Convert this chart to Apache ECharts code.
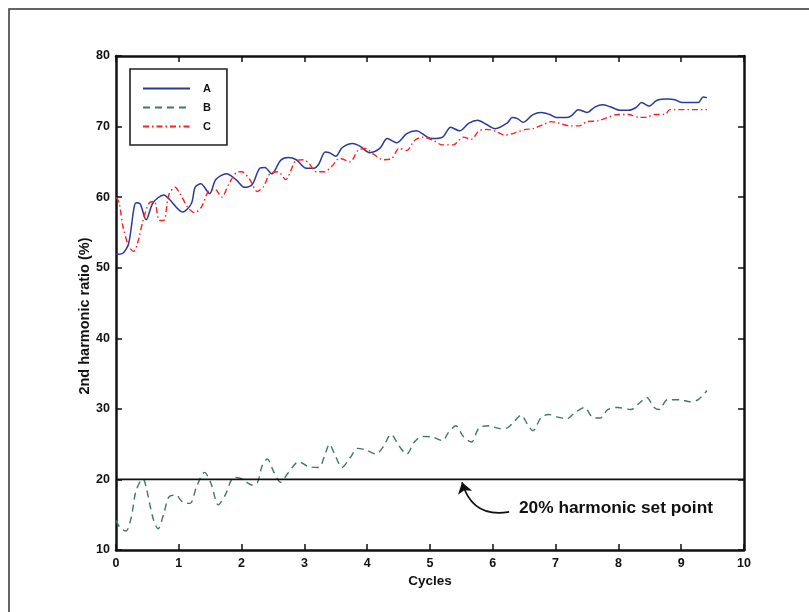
<!DOCTYPE html>
<html>
<head>
<meta charset="utf-8">
<script src="https://cdn.jsdelivr.net/npm/echarts@6/dist/echarts.min.js"></script>
<style>
  html, body { margin: 0; padding: 0; background: #fff; }
  #chart { width: 809px; height: 612px; }
</style>
</head>
<body>
<div id="chart"></div>
<script>
// Second-harmonic ratio over the first cycles for three cases
const seriesA = [
  [0,51.9],[0.1,52],[0.2,53.4],[0.32,59.2],[0.38,59.1],[0.48,56.8],[0.59,59.2],[0.76,60.3],[0.85,59.7],
  [1.06,57.9],[1.2,59.1],[1.26,61.4],[1.35,61.9],[1.49,60.5],[1.59,62.5],[1.76,63.3],[1.92,62.4],
  [2.04,61.4],[2.17,61.8],[2.29,64.1],[2.37,64.2],[2.48,63.3],[2.62,65.2],[2.74,65.6],[2.87,65.3],
  [3.03,64.1],[3.15,64.1],[3.23,64.7],[3.33,66.4],[3.4,66.3],[3.5,65.8],[3.6,67],[3.77,67.6],[3.89,67.2],
  [4.04,66.3],[4.2,66.9],[4.32,68.3],[4.47,67.7],[4.63,69],[4.78,69.4],[4.96,68.5],
  [5.04,68.3],[5.2,68.5],[5.33,69.9],[5.47,69.4],[5.62,70.5],[5.76,70.9],[5.9,70.3],
  [6.04,69.7],[6.23,70.5],[6.31,71.3],[6.4,71.1],[6.48,70.6],[6.64,71.7],[6.77,72],[6.91,71.7],
  [7.01,71.3],[7.18,71.3],[7.26,71.6],[7.36,72.4],[7.5,72],[7.63,72.8],[7.75,73.1],[7.87,72.8],
  [8.04,72.3],[8.16,72.3],[8.28,72.7],[8.37,73.4],[8.49,72.9],[8.61,73.7],[8.78,73.9],[8.9,73.8],
  [9.02,73.4],[9.27,73.4],[9.35,74.2],[9.41,74.1]
];
const seriesB = [
  [0,14.2],[0.07,13.1],[0.16,12.7],[0.24,14.5],[0.32,18.4],[0.43,20.1],[0.48,18.9],[0.59,14.5],[0.67,13],
  [0.76,15.1],[0.84,17.5],[0.95,17.8],[1.06,16.8],[1.18,16.6],[1.28,18.9],[1.41,21],[1.51,19.5],
  [1.63,16.4],[1.74,17.8],[1.88,20.3],[2,20.1],[2.17,19.2],[2.25,19.5],[2.33,22],[2.41,22.9],
  [2.51,21.1],[2.62,19.6],[2.74,20.9],[2.91,22.5],[3.07,21.8],[3.23,21.7],[3.32,23.3],[3.4,25],
  [3.48,23.6],[3.6,21.7],[3.73,23.1],[3.85,24.4],[3.97,24.2],[4.14,23.6],[4.26,24.7],[4.38,26.4],
  [4.51,24.7],[4.63,23.6],[4.75,25.3],[4.88,26.1],[5.04,26],[5.2,25.5],[5.29,26.6],[5.41,27.6],
  [5.53,26.1],[5.66,25.3],[5.78,27.3],[5.94,27.6],[6.11,27.2],[6.23,27.3],[6.35,28.3],[6.45,29.1],
  [6.56,27.7],[6.64,26.9],[6.77,28.8],[6.89,29.2],[7.05,28.8],[7.18,28.6],[7.3,29.4],[7.46,30.2],
  [7.59,28.8],[7.71,28.7],[7.83,29.9],[7.99,30.2],[8.2,29.9],[8.33,30.8],[8.45,31.6],[8.57,30.2],
  [8.65,29.9],[8.78,31.3],[8.98,31.3],[9.14,31],[9.27,31.3],[9.41,32.6]
];
const seriesC = [
  [0,60],[0.05,59.2],[0.11,55.9],[0.2,53.1],[0.28,52.3],[0.34,53.4],[0.44,57],[0.53,59.2],[0.61,59.4],
  [0.69,56.7],[0.76,56.7],[0.84,60.3],[0.94,61.4],[1.02,60.5],[1.14,58.6],[1.25,57.8],[1.36,58.6],
  [1.47,60.8],[1.58,61.1],[1.68,60],[1.8,61.9],[1.92,63.5],[2,63.6],[2.13,62.5],[2.25,60.8],
  [2.35,61.5],[2.45,63.3],[2.58,63.6],[2.7,62.5],[2.87,65.2],[2.99,65.3],[3.07,64.8],[3.19,63.6],
  [3.32,63.6],[3.44,64.4],[3.56,65.5],[3.73,65],[3.85,66.6],[3.97,66.9],[4.1,66.1],[4.26,65.3],
  [4.38,65.4],[4.51,66.9],[4.63,66.6],[4.75,68],[4.88,68.5],[5.04,68.1],[5.2,67.4],[5.37,67.4],
  [5.53,68.5],[5.66,68.2],[5.78,69.4],[5.9,69.6],[6.03,69.4],[6.19,68.8],[6.35,69.1],[6.52,69.6],
  [6.64,69.7],[6.81,70.3],[6.93,70.7],[7.05,70.5],[7.22,70.1],[7.38,70.1],[7.5,70.7],[7.67,70.8],
  [7.83,71.3],[7.99,71.7],[8.16,71.7],[8.33,71.3],[8.45,71.3],[8.57,71.7],[8.74,71.7],[8.82,72.4],
  [9.41,72.4]
];
const setPoint = 20;
const setPointLabel = '20% harmonic set point';
const arrowFrom = [6.26, 15.4];
const arrowTo = [5.51, 19.6];

const FONT = 'Liberation Sans';
const chart = echarts.init(document.getElementById('chart'), null, { renderer: 'canvas' });

// boxed frame: every side gets its own axis with inward ticks
function frameAxis(extra) {
  return Object.assign({
    type: 'value',
    axisLine: { show: true, onZero: false, lineStyle: { color: '#111', width: 2.5 } },
    axisTick: { show: true, inside: true, length: 6, lineStyle: { color: '#111', width: 1.5 } },
    splitLine: { show: false }
  }, extra);
}
const nameStyle = () => ({ fontFamily: FONT, fontWeight: 'bold', fontSize: 13.5, color: '#111' });
const tickFont = () => ({ fontFamily: FONT, fontWeight: 'bold', fontSize: 12.5, color: '#111' });

chart.setOption({
  animation: false,
  backgroundColor: '#fff',
  grid: { left: 116, right: 65, top: 56, bottom: 62 },
  legend: {
    data: ['A', 'B', 'C'],
    orient: 'vertical',
    left: 130, top: 69,
    padding: [14, 16, 13, 12],
    itemWidth: 47, itemHeight: 12, itemGap: 8,
    borderColor: '#222', borderWidth: 1.6,
    itemStyle: { opacity: 0 },
    textStyle: { fontFamily: FONT, fontWeight: 'bold', fontSize: 11, color: '#111', padding: [0, 0, 0, 8] }
  },
  xAxis: [
    frameAxis({
      min: 0, max: 10, interval: 1, position: 'bottom',
      name: 'Cycles', nameLocation: 'middle', nameGap: 24, nameMoveOverlap: false,
      nameTextStyle: nameStyle(),
      axisLabel: Object.assign({ margin: 7 }, tickFont())
    }),
    frameAxis({ min: 0, max: 10, interval: 1, position: 'top', axisLabel: { show: false } })
  ],
  yAxis: [
    frameAxis({
      min: 10, max: 80, interval: 10, position: 'left',
      name: '2nd harmonic ratio (%)', nameLocation: 'middle', nameGap: 24, nameMoveOverlap: false,
      nameTextStyle: Object.assign(nameStyle(), { fontSize: 14.5, padding: [0, 26, 0, 0] }),
      axisLabel: Object.assign({ margin: 6 }, tickFont())
    }),
    frameAxis({ min: 10, max: 80, interval: 10, position: 'right', axisLabel: { show: false } })
  ],
  series: [
    {
      name: 'A', type: 'line', data: seriesA, showSymbol: false, symbol: 'none', smooth: 0.3,
      lineStyle: { color: '#2b3a9a', width: 1.5, type: 'solid' }, itemStyle: { color: '#2b3a9a' }
    },
    {
      name: 'B', type: 'line', data: seriesB, showSymbol: false, symbol: 'none', smooth: 0.3,
      lineStyle: { color: '#3d7a5f', width: 1.4, type: [7, 5] }, itemStyle: { color: '#3d7a5f' }
    },
    {
      name: 'C', type: 'line', data: seriesC, showSymbol: false, symbol: 'none', smooth: 0.3,
      lineStyle: { color: '#ff1f1f', width: 1.4, type: [6, 3, 1.5, 3] }, itemStyle: { color: '#ff1f1f' }
    },
    {
      name: 'setpoint', type: 'line', data: [[0, setPoint], [10, setPoint]], showSymbol: false, symbol: 'none',
      lineStyle: { color: '#111', width: 1.8 }, silent: true
    },
    {
      // curved pointer from the caption to the set-point line
      name: 'pointer', type: 'lines', coordinateSystem: 'cartesian2d', silent: true,
      symbol: ['none', 'arrow'], symbolSize: [8, 11],
      lineStyle: { color: '#111', width: 1.6, opacity: 1, curveness: 0.45 },
      data: [{ coords: [arrowFrom, arrowTo] }]
    }
  ],
  graphic: [
    {
      type: 'rect', shape: { x: 9, y: 9, width: 900, height: 800 },
      style: { fill: null, stroke: '#333', lineWidth: 1.5 }, silent: true, z: -1
    },
    {
      type: 'text', left: 519, top: 500,
      style: { text: setPointLabel, fontFamily: FONT, fontWeight: 'bold', fontSize: 17.3, fill: '#111' }
    }
  ]
});
</script>
</body>
</html>
